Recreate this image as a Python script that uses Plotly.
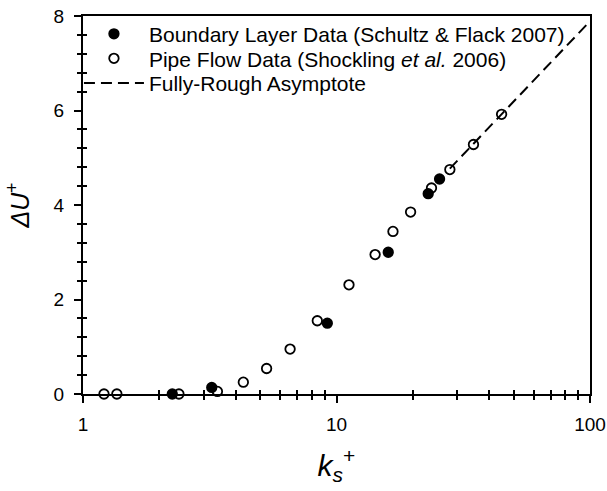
import plotly.graph_objects as go

# Boundary layer data (Schultz & Flack 2007)
bl_ks = [2.25, 3.22, 9.2, 16.0, 23.0, 25.5]
bl_du = [0.0, 0.14, 1.50, 3.00, 4.24, 4.55]

# Pipe flow data (Shockling et al. 2006)
pf_ks = [1.21, 1.36, 2.39, 3.39, 4.29, 5.30, 6.56, 8.40, 11.2, 14.2, 16.7, 19.6, 23.7, 28.0, 34.7, 44.8]
pf_du = [0.0, 0.0, 0.0, 0.055, 0.25, 0.54, 0.95, 1.55, 2.31, 2.95, 3.44, 3.85, 4.36, 4.75, 5.28, 5.92]

# Fully-rough asymptote (end points)
fr_ks = [28.0, 100.0]
fr_du = [4.77, 7.89]

x_major = [1, 10, 100]
x_major_text = ["1", "10", "100"]
x_minor = [2, 3, 4, 5, 6, 7, 8, 9, 20, 30, 40, 50, 60, 70, 80, 90]

FONT = "Liberation Sans, Arial, sans-serif"

fig = go.Figure()
fig.add_trace(go.Scatter(
    x=pf_ks, y=pf_du, mode="markers", name="Pipe Flow Data (Shockling <i>et al.</i> 2006)",
    marker=dict(symbol="circle", size=9.5, color="white", line=dict(color="black", width=1.8)),
    legend="legend2", cliponaxis=False))
fig.add_trace(go.Scatter(
    x=fr_ks, y=fr_du, mode="lines", name="Fully-Rough Asymptote",
    line=dict(color="black", width=2, dash="11px,6px"), legend="legend3"))
fig.add_trace(go.Scatter(
    x=bl_ks, y=bl_du, mode="markers", name="Boundary Layer Data (Schultz & Flack 2007)",
    marker=dict(symbol="circle", size=9.5, color="black", line=dict(color="black", width=1.8)),
    legend="legend", cliponaxis=False))
# empty trace to realise the overlay axes (inside half of minor ticks)
fig.add_trace(go.Scatter(x=[], y=[], xaxis="x2", yaxis="y2", showlegend=False, hoverinfo="skip"))

leg_common = dict(x=-0.008, xanchor="left", yanchor="middle", bgcolor="rgba(0,0,0,0)",
                  font=dict(size=21), itemwidth=60)

fig.update_layout(
    width=607, height=491,
    margin=dict(l=83, r=17, t=16, b=97, autoexpand=False),
    paper_bgcolor="white", plot_bgcolor="white",
    font=dict(family=FONT, size=19, color="black"),
    showlegend=True,
    legend=dict(y=0.952, **leg_common),
    legend2=dict(y=0.887, **leg_common),
    legend3=dict(y=0.822, **leg_common),
    xaxis=dict(type="log", range=[0, 2], tickmode="array", tickvals=x_major, ticktext=x_major_text,
               showline=True, linecolor="black", linewidth=2, mirror=True, automargin=False,
               ticks="outside", ticklen=7, tickwidth=1.5, tickcolor="black",
               minor=dict(tickmode="array", tickvals=x_minor, ticks="outside", ticklen=4,
                          tickwidth=1.5, tickcolor="black", showgrid=False),
               showgrid=False, zeroline=False, ticklabelstandoff=5,
               title=dict(text="<i>k<sub>s</sub></i><sup>+</sup>", font=dict(size=30), standoff=21)),
    yaxis=dict(range=[0, 8], tickmode="array", tickvals=[0, 2, 4, 6, 8],
               showline=True, linecolor="black", linewidth=2, mirror=True, automargin=False,
               ticks="outside", ticklen=7, tickwidth=1.5, tickcolor="black",
               minor=dict(dtick=0.4, tick0=0, ticks="outside", ticklen=4,
                          tickwidth=1.5, tickcolor="black", showgrid=False),
               showgrid=False, zeroline=False, ticklabelstandoff=6,
               title=dict(text="<i>ΔU</i><sup>+</sup>", font=dict(size=25), standoff=17)),
    xaxis2=dict(type="log", range=[0, 2], overlaying="x", anchor="y", side="bottom",
                showline=False, showticklabels=False, ticks="", showgrid=False, zeroline=False,
                automargin=False,
                minor=dict(tickmode="array", tickvals=x_minor, ticks="inside", ticklen=4,
                           tickwidth=1.5, tickcolor="black", showgrid=False)),
    yaxis2=dict(range=[0, 8], overlaying="y", anchor="x", side="left",
                showline=False, showticklabels=False, ticks="", showgrid=False, zeroline=False,
                automargin=False,
                minor=dict(dtick=0.4, tick0=0, ticks="inside", ticklen=4,
                           tickwidth=1.5, tickcolor="black", showgrid=False)),
)

fig.write_html("out.html", config={"displayModeBar": False},
               post_script="document.body.style.margin='0px';")
